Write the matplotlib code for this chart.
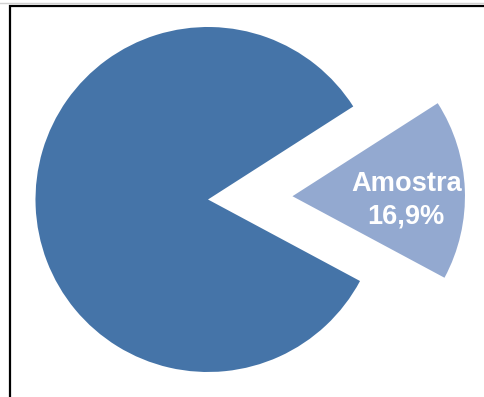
import numpy as np
import matplotlib.pyplot as plt
from matplotlib.patches import Rectangle
from matplotlib.lines import Line2D

plt.rcParams['font.family'] = ['Liberation Sans', 'DejaVu Sans']

labels = ['Amostra', '']
shares = [16.9, 83.1]
colors = ['#93A9D0', '#4574A8']

W, H = 484, 397
R = 172.5
# pie() takes the explode offset in data units, not as a fraction of radius
explode = [0.49 * R, 0.0]

fig = plt.figure(figsize=(W / 100, H / 100), dpi=100)
ax = fig.add_axes([0, 0, 1, 1])

wedges = ax.pie(shares, colors=colors, explode=explode,
                startangle=-28.2, counterclock=True,
                center=(208, H - 199.5), radius=R,
                wedgeprops=dict(linewidth=0))[0]

# pie() resets the limits, so pin them to pixel units afterwards
ax.set_xlim(0, W)
ax.set_ylim(0, H)
ax.set_aspect('equal')
ax.axis('off')

# two-line label inside the detached slice
w = wedges[0]
mid = np.deg2rad((w.theta1 + w.theta2) / 2)
cx, cy = w.center
anchor = (cx + 0.66 * w.r * np.cos(mid), cy + 0.66 * w.r * np.sin(mid))
lines = [labels[0], ('%.1f%%' % shares[0]).replace('.', ',')]
for txt, dy in zip(lines, [0.8, -23.0]):
    ax.annotate(txt, anchor, xytext=(0, dy), textcoords='offset points',
                ha='center', va='baseline', color='white',
                fontsize=19.6, fontweight='bold')

# frame around the chart area
fig.add_artist(Line2D([0, 1], [1 - 3 / H, 1 - 3 / H], color='#d0d0d0', lw=1,
                      transform=fig.transFigure))
fig.add_artist(Rectangle((10 / W, -0.1), 1.2, 1.1 - 6 / H, fill=False,
                         edgecolor='black', lw=1.6, transform=fig.transFigure))

fig.savefig('out.png', dpi=100)
